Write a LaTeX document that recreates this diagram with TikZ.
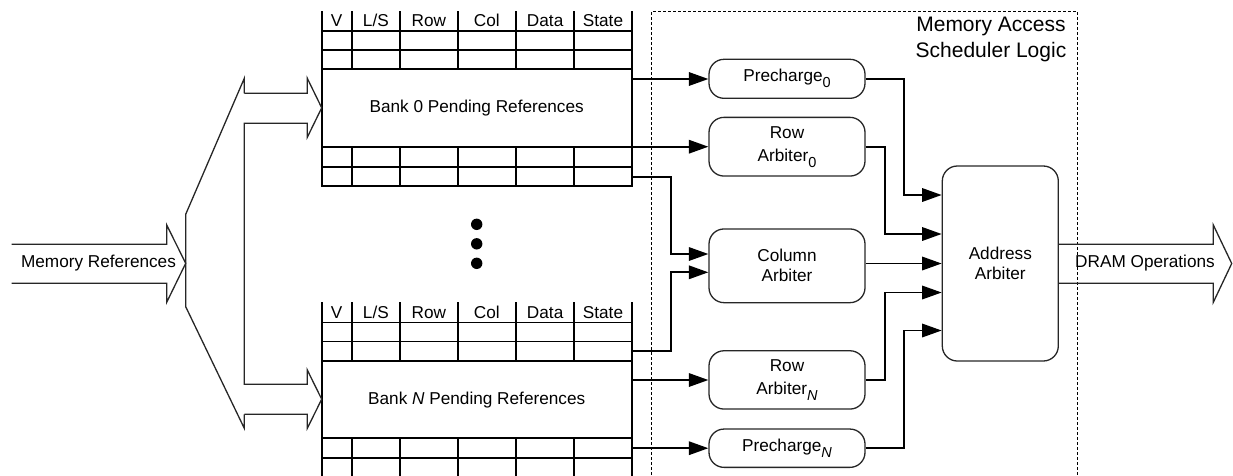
\documentclass[tikz,border=0pt]{standalone}
\usepackage{fontspec}
\setmainfont{Liberation Sans}
\usetikzlibrary{arrows.meta}
\newcommand\lowsub[1]{\raisebox{-6pt}{\fontsize{14.5}{14.5}\selectfont #1}}
\newcommand\banktable[1]{%
  \draw[tbl] (321.7,11.7) -- (321.7,185.7) (631.7,11.7) -- (631.7,185.7);
  \foreach \y in {31,50,69.3,146.7,166.7,185.7} \draw[tbl] (321.7,\y) -- (631.7,\y);
  \foreach \x in {351.7,400,457.7,516,574.3} \draw[tbl] (\x,11.7) -- (\x,69.3) (\x,146.7) -- (\x,185.7);
  \foreach \x/\t [count=\i] in {336.7/V, 375.85/{L/S}, 428.85/Row, 486.85/Col, 545.15/Data, 603/State}
    \node (h#1\i) at (\x,20.7) {\t};
}
\begin{document}
\begin{tikzpicture}[x=1pt,y=-1pt,
  every node/.style={font=\fontsize{17.2}{20}\selectfont, inner sep=0pt},
  tbl/.style={line width=1.8pt, black, line cap=rect},
  rbox/.style={draw=black!85, line width=1.3pt, rounded corners=15pt, minimum width=156pt, align=center},
  conn/.style={line width=1.7pt, -{Triangle[length=19.5pt,width=13.5pt]}},
  bigarrow/.style={line width=1.3pt, black!85, line join=miter},
  dotnode/.style={circle, fill=black, minimum size=11.4pt}
]
\useasboundingbox (0,0) rectangle (1233,475);
\clip (0,0) rectangle (1233,475);

% dashed scheduler region
\draw[line width=1.3pt, dash pattern=on 3pt off 2pt] (651.7,480) -- (651.7,11.7) -- (1077.7,11.7) -- (1077.7,480);
\node[font=\fontsize{21}{25.6}\selectfont, align=center] (title) at (991,39.5) {Memory Access\\Scheduler Logic};

% bank tables
\banktable{a}
\node (bank0) at (476.7,108) {Bank 0 Pending References};
\begin{scope}[shift={(0,291.5)}]
\banktable{b}
\end{scope}
\node (bankN) at (476.7,400) {Bank \textit{N} Pending References};

% dots
\node[dotnode] (dot1) at (476.7,224.3) {};
\node[dotnode] (dot2) at (476.7,243.8) {};
\node[dotnode] (dot3) at (476.7,263.3) {};

% input arrow and splitter
\draw[bigarrow] (11.7,244.3) -- (166.7,244.3) -- (166.7,225) -- (185.7,263.3) -- (166.7,302.3) -- (166.7,283.3) -- (11.7,283.3);
\node (memref) at (98.5,263.3) {Memory References};
\draw[bigarrow] (244.3,93.3) -- (244.3,78.3) -- (185.7,214.3) -- (185.7,306.7) -- (244.3,428.3) -- (244.3,414.3);
\draw[bigarrow] (244.3,93.3) -- (307.3,93.3) -- (307.3,78.3) -- (321.7,107.8) -- (307.3,137.3) -- (307.3,123.3) -- (244.3,123.3)
  -- (244.3,384.3) -- (307.3,384.3) -- (307.3,370) -- (321.7,399.2) -- (307.3,428.3) -- (307.3,414.3) -- (244.3,414.3);

% scheduler boxes
\node[rbox, minimum height=39pt] (pre0) at (787,78.8) {Precharge\lowsub{0}};
\node[rbox, minimum height=58.7pt] (row0) at (787,146.7) {Row\\[3pt]Arbiter\lowsub{0}};
\node[rbox, minimum height=73.7pt] (col) at (787,265.8) {Column\\Arbiter};
\node[rbox, minimum height=58.3pt] (rowN) at (787,379.9) {Row\\[3pt]Arbiter\lowsub{\textit{N}}};
\node[rbox, minimum height=38.3pt] (preN) at (787,448.2) {Precharge\lowsub{\textit{N}}};
\node[rbox, minimum width=116pt, minimum height=195pt] (addr) at (1000.3,263.5) {Address\\Arbiter};

% bank outputs
\coordinate (b0a) at (631.7,79);
\coordinate (b0b) at (631.7,146.7);
\coordinate (b0c) at (631.7,176.7);
\coordinate (bNa) at (631.7,351);
\coordinate (bNb) at (631.7,380);
\coordinate (bNc) at (631.7,448.2);

\draw[conn] (b0a) -- (b0a -| pre0.west);
\draw[conn] (b0b) -- (b0b -| row0.west);
\draw[conn] (b0c) -- ++(39,0) |- ([yshift=11.8pt]col.west);
\draw[conn] (bNa) -- ++(39,0) |- ([yshift=-6.5pt]col.west);
\draw[conn] (bNb) -- (bNb -| rowN.west);
\draw[conn] (bNc) -- (bNc -| preN.west);

% to address arbiter
\draw[conn] (pre0.east) -- ++(38.3,0) |- ([yshift=68.5pt]addr.west);
\draw[conn] (row0.east) -- ++(19.3,0) |- ([yshift=29.5pt]addr.west);
\draw[conn] (col.east |- addr.west) -- (addr.west);
\draw[conn] (rowN.east) -- ++(19.3,0) |- ([yshift=-29pt]addr.west);
\draw[conn] (preN.east) -- ++(38.3,0) |- ([yshift=-67pt]addr.west);

% output arrow
\draw[bigarrow] ([yshift=19.2pt]addr.east) -- (1213.3,244.3) -- (1213.3,225) -- (1231.7,263.5) -- (1213.3,302.3) -- (1213.3,283.3) -- ([yshift=-19.8pt]addr.east);
\node (dram) at (1145,263.3) {DRAM Operations};
\end{tikzpicture}
\end{document}
